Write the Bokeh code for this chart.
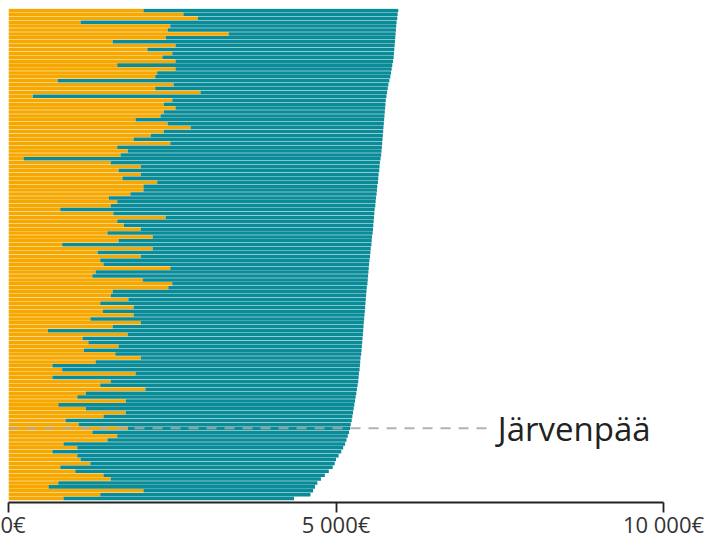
from bokeh.plotting import figure
from bokeh.models import Range1d, FixedTicker, ColumnDataSource
from bokeh.core.properties import value
from bokeh.embed import file_html
from bokeh.resources import INLINE

# Values per municipality, sorted by total (top row first), in euros
orange_eur = [
    2060, 2670, 2890, 1100, 2470, 2430, 3360, 2400, 1590, 2550,
    2120, 2500, 2350, 2550, 1660, 2550, 2270, 2240, 750, 2520,
    2240, 2930, 370, 2500, 2370, 2550, 2370, 2320, 1940, 2430,
    2780,
    2370, 2170, 1910, 2470, 1660, 1820, 1710, 230, 1560, 2020,
    1680, 2020, 1740, 2270, 2060, 2060, 1860, 1530, 1660, 1560,
    790, 1600, 2400, 1660, 1760, 2020, 1510, 2200, 1680, 820,
    2200, 1360, 2020, 1400, 1450, 2470, 1330, 1280, 2050, 2500,
    2440, 1590, 1560, 1830, 1400, 1910, 1440, 1910, 1250, 2020,
    1590, 600, 1820, 1130, 1220, 1680, 1150, 1630, 2020, 1330,
    670,
    820, 1940, 670, 1560, 1400, 2090, 1180, 1050, 1790, 760,
    1180, 1790, 1450, 870, 1070, 1820, 1280, 1660, 1510, 840,
    1050, 670, 1050, 1100, 1250, 790, 1020, 1450, 1560, 760,
    610, 2060, 1400, 840,
]
total_eur = [
    5950, 5940, 5935, 5925, 5920, 5915, 5910, 5905, 5900, 5895, 5890, 5885, 5880,
    5870, 5860, 5850, 5840, 5830, 5815, 5800, 5790, 5780, 5770, 5760, 5755, 5750,
    5745, 5740, 5735, 5730, 5725, 5720, 5715, 5710, 5705, 5700, 5695, 5690, 5680,
    5670, 5665, 5660, 5650, 5645, 5640, 5630, 5625, 5620, 5610, 5605, 5600, 5590,
    5585, 5580, 5575, 5570, 5565, 5560, 5550, 5545, 5540, 5530, 5525, 5520, 5510,
    5505, 5500, 5495, 5490, 5485, 5480, 5470, 5465, 5460, 5455, 5450, 5445, 5440,
    5435, 5430, 5425, 5420, 5415, 5410, 5405, 5400, 5395, 5390, 5385, 5375, 5370,
    5365, 5360, 5350, 5345, 5340, 5330, 5320, 5310, 5300, 5290, 5280, 5270, 5260,
    5250, 5240, 5225, 5215, 5200, 5180, 5160, 5140, 5110, 5080, 5040, 5000, 4980,
    4950, 4890, 4830, 4770, 4715, 4680, 4650, 4610, 4360,
]
highlight_index = 107
highlight_name = "Järvenpää"
tick_values = [0, 5000, 10000]
tick_labels = ["0€", "5 000€", "10 000€"]

N = len(total_eur)
rows = [N - 1 - i for i in range(N)]

src = ColumnDataSource(dict(y=rows, orange=orange_eur, total=total_eur))

p = figure(width=711, height=541, output_backend="svg", toolbar_location=None,
           x_range=Range1d(0, 10000), y_range=Range1d(-1.0, N - 0.5),
           min_border_left=8, min_border_right=48, min_border_top=8,
           min_border_bottom=37)

p.hbar(y="y", left=0, right="orange", height=0.9, source=src,
       fill_color="#F6A800", line_color=None)
p.hbar(y="y", left="orange", right="total", height=0.9, source=src,
       fill_color="#0A8B98", line_color=None)

hy = N - 1 - highlight_index
p.line(x=[0, 7350], y=[hy, hy], line_color="#aaaaaa", line_width=2,
       line_dash="10 8", line_alpha=0.9)
p.text(x=[7470], y=[hy], text=[highlight_name], text_font=value("Open Sans"),
       text_font_size="33px", text_color="#222222", text_baseline="middle",
       text_align="left")

p.yaxis.visible = False
p.xgrid.visible = False
p.ygrid.visible = False
p.outline_line_color = None

ax = p.xaxis[0]
ax.ticker = FixedTicker(ticks=tick_values)
ax.major_label_overrides = {v: l for v, l in zip(tick_values, tick_labels)}
ax.major_label_text_font = "Open Sans"
ax.major_label_text_font_size = "22px"
ax.major_label_text_color = "#333333"
ax.axis_line_color = "#222222"
ax.axis_line_width = 1.8
ax.major_tick_line_color = "#222222"
ax.major_tick_line_width = 1.8
ax.major_tick_out = 10
ax.major_tick_in = 0
ax.minor_tick_line_color = None
ax.major_label_standoff = -4

open("out.html", "w").write(file_html(p, INLINE))
